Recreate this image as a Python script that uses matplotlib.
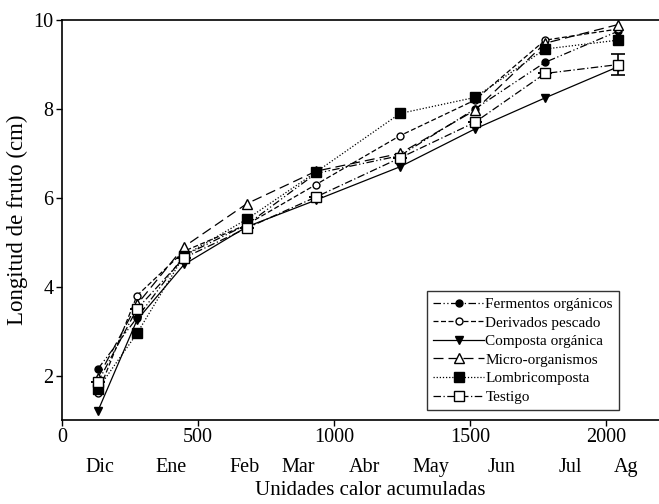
import matplotlib
matplotlib.use("Agg")
import matplotlib.pyplot as plt
from matplotlib.transforms import blended_transform_factory

plt.rcParams['font.family'] = ['Liberation Serif', 'DejaVu Serif']

# Data
calor = [132, 276, 449, 680, 934, 1243, 1518, 1776, 2044]
fermentos = [2.15, 3.30, 4.70, 5.40, 6.55, 6.95, 8.00, 9.05, 9.75]
derivados = [1.60, 3.80, 4.80, 5.40, 6.30, 7.40, 8.20, 9.55, 9.80]
composta = [1.20, 3.25, 4.50, 5.35, 5.95, 6.70, 7.55, 8.25, 8.95]
micro = [1.95, 3.60, 4.90, 5.87, 6.60, 7.00, 7.97, 9.48, 9.90]
lombri = [1.70, 2.95, 4.70, 5.52, 6.58, 7.90, 8.26, 9.35, 9.55]
testigo = [1.85, 3.50, 4.65, 5.32, 6.02, 6.90, 7.70, 8.80, 9.00]
testigo_err = [0, 0, 0, 0, 0, 0, 0, 0, 0.23]

meses = ['Dic', 'Ene', 'Feb', 'Mar', 'Abr', 'May', 'Jun', 'Jul', 'Ag']
meses_pos = [140, 401, 673, 868, 1112, 1357, 1618, 1868, 2074]
xticks = [0, 500, 1000, 1500, 2000]
yticks = [2, 4, 6, 8, 10]

fig = plt.figure(figsize=(6.59, 5.04), dpi=100)
ax = fig.add_axes([0.094, 0.1667, 0.906, 0.7933])

lw = 0.9
ax.plot(calor, fermentos, color='black', lw=lw, ls=(0, (6, 2, 1, 2, 1, 2)),
        marker='o', ms=5, mfc='black', mec='black', label='Fermentos orgánicos')
ax.plot(calor, derivados, color='black', lw=lw, ls=(0, (4, 2)),
        marker='o', ms=5, mfc='white', mec='black', label='Derivados pescado')
ax.plot(calor, composta, color='black', lw=lw, ls='-',
        marker='v', ms=6, mfc='black', mec='black', label='Composta orgánica')
ax.plot(calor, micro, color='black', lw=lw, ls=(0, (8, 4)),
        marker='^', ms=6.5, mfc='white', mec='black', label='Micro-organismos')
ax.plot(calor, lombri, color='black', lw=lw, ls=(0, (1, 1.5)),
        marker='s', ms=6.5, mfc='black', mec='black', label='Lombricomposta')
ax.errorbar(calor, testigo, yerr=testigo_err, fmt='none', ecolor='black',
            capsize=5, elinewidth=1.2, capthick=1.2)
ax.plot(calor, testigo, color='black', lw=lw, ls=(0, (6, 2, 1, 2)),
        marker='s', ms=7, mfc='white', mec='black', label='Testigo')

ax.set_xlim(0, 2195)
ax.set_ylim(1.0, 10.0)
ax.set_xticks(xticks)
ax.set_yticks(yticks)
ax.tick_params(direction='out', length=4, width=1, labelsize=14.5, pad=2)
ax.spines['right'].set_visible(False)
for s in ['left', 'bottom', 'top']:
    ax.spines[s].set_linewidth(1.2)

trans = blended_transform_factory(ax.transData, ax.transAxes)
for m, p in zip(meses, meses_pos):
    ax.text(p, -0.12, m, transform=trans, ha='center', va='center', fontsize=14.5)

ax.text(0.516, -0.176, 'Unidades calor acumuladas', transform=ax.transAxes,
        ha='center', va='center', fontsize=15)
ax.set_ylabel('Longitud de fruto (cm)', fontsize=16.5, labelpad=4)

leg = ax.legend(loc='lower right', bbox_to_anchor=(0.933, 0.025), fontsize=11,
                frameon=True, fancybox=False, edgecolor='black',
                handlelength=3.3, handletextpad=0.1, labelspacing=0.32,
                borderpad=0.4, borderaxespad=0)
leg.get_frame().set_linewidth(1.0)

fig.savefig('out.png', dpi=100)
